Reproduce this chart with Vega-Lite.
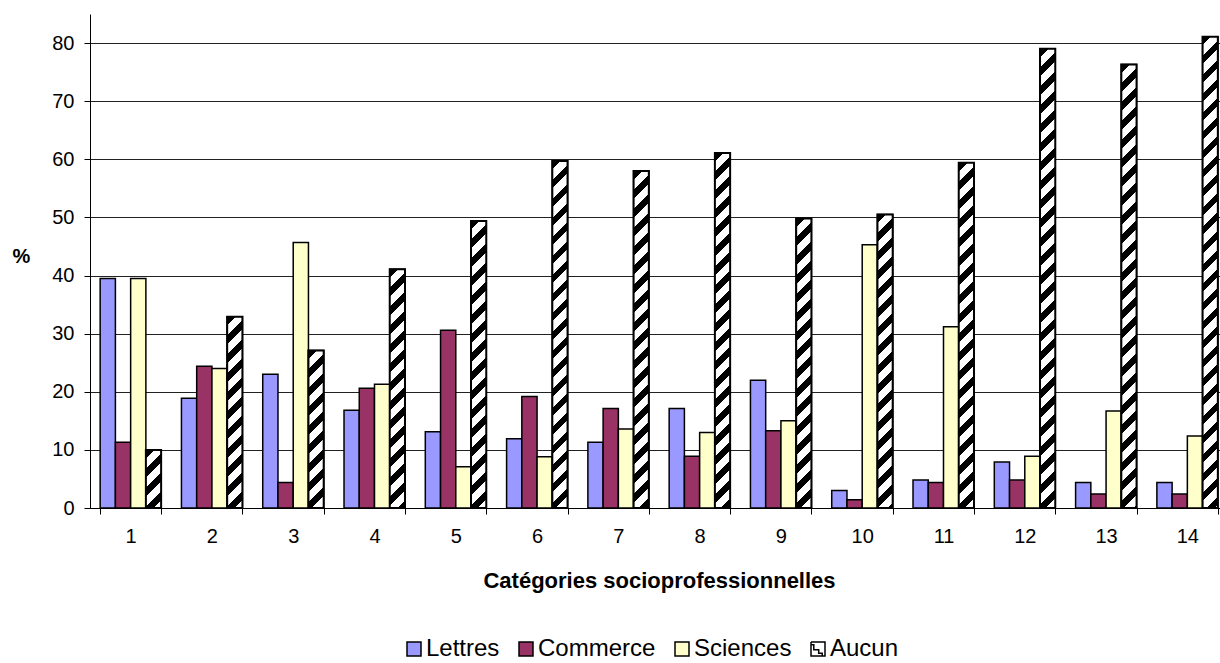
{
  "$schema": "https://vega.github.io/schema/vega-lite/v6.json",
  "autosize": {"type": "none"},
  "width": 1130,
  "height": 494,
  "padding": {"left": 90, "top": 14, "right": 0, "bottom": 155},
  "background": "white",
  "config": {
    "view": {"stroke": null},
    "font": "Liberation Sans",
    "axis": {"labelFont": "Liberation Sans", "titleFont": "Liberation Sans", "labelColor": "#000", "titleColor": "#000", "domainColor": "#000", "tickColor": "#000", "domainWidth": 1, "tickWidth": 1}
  },
  "params": [
    {"name": "hatch", "value": [
      {"offset": 0, "color": "#000"}, {"offset": 0.01731, "color": "#000"}, {"offset": 0.01731, "color": "#fff"}, {"offset": 0.03846, "color": "#fff"},
      {"offset": 0.03846, "color": "#000"}, {"offset": 0.05577, "color": "#000"}, {"offset": 0.05577, "color": "#fff"}, {"offset": 0.07692, "color": "#fff"},
      {"offset": 0.07692, "color": "#000"}, {"offset": 0.09423, "color": "#000"}, {"offset": 0.09423, "color": "#fff"}, {"offset": 0.11538, "color": "#fff"},
      {"offset": 0.11538, "color": "#000"}, {"offset": 0.13269, "color": "#000"}, {"offset": 0.13269, "color": "#fff"}, {"offset": 0.15385, "color": "#fff"},
      {"offset": 0.15385, "color": "#000"}, {"offset": 0.17115, "color": "#000"}, {"offset": 0.17115, "color": "#fff"}, {"offset": 0.19231, "color": "#fff"},
      {"offset": 0.19231, "color": "#000"}, {"offset": 0.20962, "color": "#000"}, {"offset": 0.20962, "color": "#fff"}, {"offset": 0.23077, "color": "#fff"},
      {"offset": 0.23077, "color": "#000"}, {"offset": 0.24808, "color": "#000"}, {"offset": 0.24808, "color": "#fff"}, {"offset": 0.26923, "color": "#fff"},
      {"offset": 0.26923, "color": "#000"}, {"offset": 0.28654, "color": "#000"}, {"offset": 0.28654, "color": "#fff"}, {"offset": 0.30769, "color": "#fff"},
      {"offset": 0.30769, "color": "#000"}, {"offset": 0.325, "color": "#000"}, {"offset": 0.325, "color": "#fff"}, {"offset": 0.34615, "color": "#fff"},
      {"offset": 0.34615, "color": "#000"}, {"offset": 0.36346, "color": "#000"}, {"offset": 0.36346, "color": "#fff"}, {"offset": 0.38462, "color": "#fff"},
      {"offset": 0.38462, "color": "#000"}, {"offset": 0.40192, "color": "#000"}, {"offset": 0.40192, "color": "#fff"}, {"offset": 0.42308, "color": "#fff"},
      {"offset": 0.42308, "color": "#000"}, {"offset": 0.44038, "color": "#000"}, {"offset": 0.44038, "color": "#fff"}, {"offset": 0.46154, "color": "#fff"},
      {"offset": 0.46154, "color": "#000"}, {"offset": 0.47885, "color": "#000"}, {"offset": 0.47885, "color": "#fff"}, {"offset": 0.5, "color": "#fff"},
      {"offset": 0.5, "color": "#000"}, {"offset": 0.51731, "color": "#000"}, {"offset": 0.51731, "color": "#fff"}, {"offset": 0.53846, "color": "#fff"},
      {"offset": 0.53846, "color": "#000"}, {"offset": 0.55577, "color": "#000"}, {"offset": 0.55577, "color": "#fff"}, {"offset": 0.57692, "color": "#fff"},
      {"offset": 0.57692, "color": "#000"}, {"offset": 0.59423, "color": "#000"}, {"offset": 0.59423, "color": "#fff"}, {"offset": 0.61538, "color": "#fff"},
      {"offset": 0.61538, "color": "#000"}, {"offset": 0.63269, "color": "#000"}, {"offset": 0.63269, "color": "#fff"}, {"offset": 0.65385, "color": "#fff"},
      {"offset": 0.65385, "color": "#000"}, {"offset": 0.67115, "color": "#000"}, {"offset": 0.67115, "color": "#fff"}, {"offset": 0.69231, "color": "#fff"},
      {"offset": 0.69231, "color": "#000"}, {"offset": 0.70962, "color": "#000"}, {"offset": 0.70962, "color": "#fff"}, {"offset": 0.73077, "color": "#fff"},
      {"offset": 0.73077, "color": "#000"}, {"offset": 0.74808, "color": "#000"}, {"offset": 0.74808, "color": "#fff"}, {"offset": 0.76923, "color": "#fff"},
      {"offset": 0.76923, "color": "#000"}, {"offset": 0.78654, "color": "#000"}, {"offset": 0.78654, "color": "#fff"}, {"offset": 0.80769, "color": "#fff"},
      {"offset": 0.80769, "color": "#000"}, {"offset": 0.825, "color": "#000"}, {"offset": 0.825, "color": "#fff"}, {"offset": 0.84615, "color": "#fff"},
      {"offset": 0.84615, "color": "#000"}, {"offset": 0.86346, "color": "#000"}, {"offset": 0.86346, "color": "#fff"}, {"offset": 0.88462, "color": "#fff"},
      {"offset": 0.88462, "color": "#000"}, {"offset": 0.90192, "color": "#000"}, {"offset": 0.90192, "color": "#fff"}, {"offset": 0.92308, "color": "#fff"},
      {"offset": 0.92308, "color": "#000"}, {"offset": 0.94038, "color": "#000"}, {"offset": 0.94038, "color": "#fff"}, {"offset": 0.96154, "color": "#fff"},
      {"offset": 0.96154, "color": "#000"}, {"offset": 0.97885, "color": "#000"}, {"offset": 0.97885, "color": "#fff"}, {"offset": 1, "color": "#fff"}
    ]}
  ],
  "data": {"values": [
    {"cat": 1, "serie": "Lettres", "pct": 39.5}, {"cat": 1, "serie": "Commerce", "pct": 11.3}, {"cat": 1, "serie": "Sciences", "pct": 39.5}, {"cat": 1, "serie": "Aucun", "pct": 10.0},
    {"cat": 2, "serie": "Lettres", "pct": 18.9}, {"cat": 2, "serie": "Commerce", "pct": 24.4}, {"cat": 2, "serie": "Sciences", "pct": 24.0}, {"cat": 2, "serie": "Aucun", "pct": 32.9},
    {"cat": 3, "serie": "Lettres", "pct": 23.0}, {"cat": 3, "serie": "Commerce", "pct": 4.4}, {"cat": 3, "serie": "Sciences", "pct": 45.7}, {"cat": 3, "serie": "Aucun", "pct": 27.1},
    {"cat": 4, "serie": "Lettres", "pct": 16.8}, {"cat": 4, "serie": "Commerce", "pct": 20.6}, {"cat": 4, "serie": "Sciences", "pct": 21.3}, {"cat": 4, "serie": "Aucun", "pct": 41.1},
    {"cat": 5, "serie": "Lettres", "pct": 13.1}, {"cat": 5, "serie": "Commerce", "pct": 30.6}, {"cat": 5, "serie": "Sciences", "pct": 7.1}, {"cat": 5, "serie": "Aucun", "pct": 49.4},
    {"cat": 6, "serie": "Lettres", "pct": 11.9}, {"cat": 6, "serie": "Commerce", "pct": 19.2}, {"cat": 6, "serie": "Sciences", "pct": 8.8}, {"cat": 6, "serie": "Aucun", "pct": 59.7},
    {"cat": 7, "serie": "Lettres", "pct": 11.3}, {"cat": 7, "serie": "Commerce", "pct": 17.1}, {"cat": 7, "serie": "Sciences", "pct": 13.6}, {"cat": 7, "serie": "Aucun", "pct": 58.0},
    {"cat": 8, "serie": "Lettres", "pct": 17.1}, {"cat": 8, "serie": "Commerce", "pct": 8.9}, {"cat": 8, "serie": "Sciences", "pct": 13.0}, {"cat": 8, "serie": "Aucun", "pct": 61.1},
    {"cat": 9, "serie": "Lettres", "pct": 22.0}, {"cat": 9, "serie": "Commerce", "pct": 13.3}, {"cat": 9, "serie": "Sciences", "pct": 15.0}, {"cat": 9, "serie": "Aucun", "pct": 49.8},
    {"cat": 10, "serie": "Lettres", "pct": 3.0}, {"cat": 10, "serie": "Commerce", "pct": 1.4}, {"cat": 10, "serie": "Sciences", "pct": 45.3}, {"cat": 10, "serie": "Aucun", "pct": 50.5},
    {"cat": 11, "serie": "Lettres", "pct": 4.8}, {"cat": 11, "serie": "Commerce", "pct": 4.4}, {"cat": 11, "serie": "Sciences", "pct": 31.2}, {"cat": 11, "serie": "Aucun", "pct": 59.4},
    {"cat": 12, "serie": "Lettres", "pct": 7.9}, {"cat": 12, "serie": "Commerce", "pct": 4.8}, {"cat": 12, "serie": "Sciences", "pct": 8.9}, {"cat": 12, "serie": "Aucun", "pct": 79.0},
    {"cat": 13, "serie": "Lettres", "pct": 4.4}, {"cat": 13, "serie": "Commerce", "pct": 2.4}, {"cat": 13, "serie": "Sciences", "pct": 16.7}, {"cat": 13, "serie": "Aucun", "pct": 76.3},
    {"cat": 14, "serie": "Lettres", "pct": 4.4}, {"cat": 14, "serie": "Commerce", "pct": 2.4}, {"cat": 14, "serie": "Sciences", "pct": 12.4}, {"cat": 14, "serie": "Aucun", "pct": 81.1}
  ]},
  "encoding": {
    "x": {
      "field": "cat", "type": "ordinal",
      "scale": {"range": [0, 1138], "paddingInner": 0.25, "paddingOuter": 0.125},
      "axis": {"title": "Catégories socioprofessionnelles", "titleFontSize": 22, "titleFontWeight": "bold", "titlePadding": 24, "labelAngle": 0, "labelFontSize": 20, "labelPadding": 12, "tickSize": 6, "tickBand": "extent", "grid": false}
    },
    "xOffset": {
      "field": "serie", "type": "nominal",
      "sort": ["Lettres", "Commerce", "Sciences", "Aucun"],
      "scale": {"paddingInner": 0, "paddingOuter": 0}
    },
    "y": {
      "field": "pct", "type": "quantitative",
      "scale": {"domain": [0, 85], "nice": false},
      "axis": {"values": [0, 10, 20, 30, 40, 50, 60, 70, 80], "grid": true, "gridColor": "#222", "gridWidth": 1, "labelFontSize": 20, "labelPadding": 10, "tickSize": 6, "title": "%", "titleAngle": 0, "titleFontSize": 20, "titleFontWeight": "bold", "titleX": -69, "titleY": 242, "titleAlign": "center", "titleBaseline": "middle"}
    }
  },
  "layer": [
    {
      "mark": {"type": "bar", "stroke": "#000", "strokeWidth": 1.5},
      "encoding": {
        "fill": {
          "field": "serie", "type": "nominal",
          "sort": ["Lettres", "Commerce", "Sciences", "Aucun"],
          "scale": {
            "domain": ["Lettres", "Commerce", "Sciences", "Aucun"],
            "range": ["#9999ff", "#993366", "#ffffcc", "#ffffff"]
          },
          "legend": {
            "title": null, "orient": "none", "direction": "horizontal", "legendX": 312, "legendY": 623,
            "symbolType": "square", "symbolSize": 196, "symbolStrokeColor": "#000", "symbolStrokeWidth": 1.5,
            "labelFontSize": 24, "labelFont": "Liberation Sans", "labelColor": "#000", "labelOffset": 0, "columnPadding": 14, "padding": 0,
            "encode": {
              "symbols": {
                "update": {
                  "fill": {"signal": "datum.value === 'Aucun' ? '#000' : scale('fill', datum.value)"},
                  "shape": {"signal": "datum.value === 'Aucun' ? 'M-1,-1L1,-1L1,1L-1,1L-1,-1L-1,1L1,1L1,-1ZM-1,1L-1,-0.6L-0.6,-0.6L-0.6,0.1L0.1,0.1L0.1,0.6L0.6,0.6L0.6,1Z' : 'square'"},
                  "stroke": {"value": "#000"},
                  "strokeWidth": {"value": 1.5},
                  "opacity": {"value": 1}
                }
              }
            }
          }
        }
      }
    },
    {
      "transform": [{"filter": "datum.serie === 'Aucun'"}],
      "mark": {"type": "bar", "stroke": "#000", "strokeWidth": 2},
      "encoding": {
        "fill": {"value": {"expr": "{gradient: 'linear', x1: 0, y1: 0, x2: 494 * bandwidth('xOffset') / (pow(bandwidth('xOffset'), 2) + pow(scale('y', 0) - scale('y', datum.pct), 2)), y2: 494 * (scale('y', 0) - scale('y', datum.pct)) / (pow(bandwidth('xOffset'), 2) + pow(scale('y', 0) - scale('y', datum.pct), 2)), stops: hatch}"}}
      }
    }
  ]
}
